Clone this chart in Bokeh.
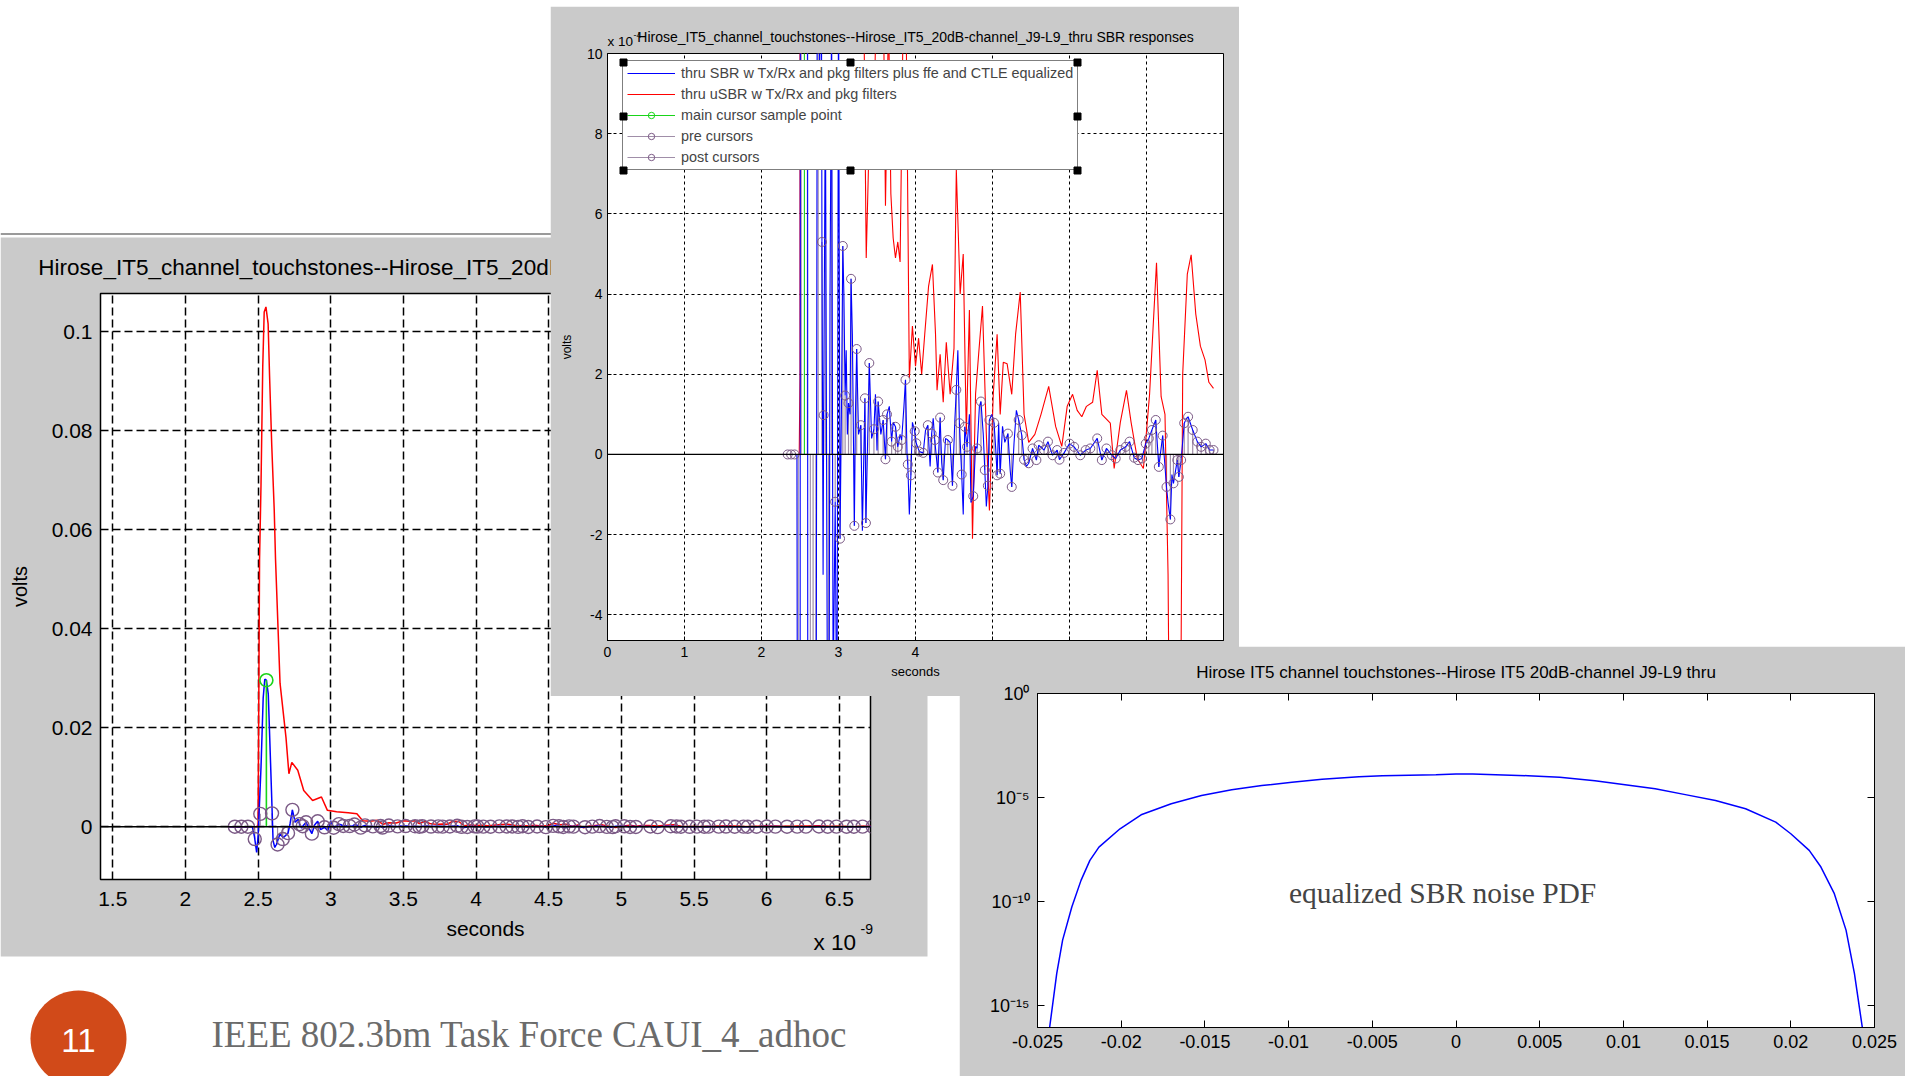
import numpy as np
from bokeh.plotting import figure
from bokeh.models import (Range1d, FixedTicker, Span, Label, Legend, LegendItem,
                          LinearAxis, CustomJSTickFormatter)
from bokeh.layouts import column
from bokeh.embed import file_html
from bokeh.resources import INLINE
from bokeh.core.properties import value

# ---------------- data (time in ns, amplitude in 1e-4 V) ----------------
red_t = [2.30, 2.49, 2.50, 2.51, 2.52, 2.532, 2.542, 2.554, 2.569, 2.579, 2.594, 2.611, 2.62, 2.651,
         2.692, 2.712, 2.732, 2.773, 2.814, 2.875, 2.936, 2.977, 3.04, 3.12, 3.18, 3.22, 3.27, 3.32,
         3.36, 3.40, 3.45, 3.50, 3.54, 3.58, 3.61, 3.65, 3.68, 3.71, 3.74, 3.77, 3.80, 3.84, 3.88,
         3.92, 3.96, 4.00, 4.04, 4.08, 4.12, 4.17, 4.22, 4.26, 4.28, 4.32, 4.36, 4.40, 4.45, 4.50,
         4.53, 4.58, 4.62, 4.66, 4.70, 4.74, 4.78, 4.82, 4.87, 4.92, 4.96, 5.01, 5.06, 5.10, 5.14,
         5.19, 5.25, 5.30, 5.36, 5.41, 5.47, 5.55, 5.63, 5.73, 5.82, 5.90, 5.97, 6.04, 6.10, 6.16,
         6.22, 6.30, 6.36, 6.42, 6.53, 6.58, 6.66, 6.74, 6.80, 6.88, 6.96, 7.04, 7.13, 7.19, 7.24,
         7.28, 7.30, 7.44, 7.47, 7.53, 7.58, 7.64, 7.70, 7.76, 7.81, 7.87]
red_v = [0, 0, 2, 540, 690, 930, 1040, 1050, 1016, 910, 770, 640, 540, 290, 180, 107, 130, 114, 73,
         53, 60, 33, 30, 28, 26, 12, 11, 13, 4.9, 8, 7.5, 12, 11, 12, 6.2, 11, 6.5, 5.4, 4.9, 5.3,
         4.8, 11, 10.5, 1.9, 3.2, 2.2, 2.9, 2.0, 3.0, 4.2, 4.74, 3.0, 1.6, 2.5, 1.3, 2.8, 1.5, 2.65,
         7.1, 4.0, 5.0, 0.5, 3.6, -2.1, 1.5, 2.5, 3.7, 0.5, -1.4, 1.5, 3.0, 1.0, 2.3, 2.26, 1.5, 3.0,
         4.05, 1.0, 0.3, 0.5, 1.0, 1.7, 0.7, 0.2, 1.2, 1.5, 1.1, 0.94, 1.2, 1.3, 2.1, 1.0, 0.78,
         -0.35, 0.8, 1.6, 0.8, -0.1, -0.35, 1.5, 4.78, 1.44, 1.0, -3.0, -8.0, -8.0, 2.0, 4.5, 4.98,
         3.5, 2.7, 2.36, 1.8, 1.65]

blue_t = [2.30, 2.46, 2.475, 2.49, 2.50, 2.52, 2.535, 2.546, 2.557, 2.57, 2.58, 2.592, 2.603, 2.615,
          2.626, 2.65, 2.675, 2.706, 2.72, 2.736, 2.755, 2.775, 2.785, 2.80, 2.807, 2.83, 2.85, 2.87,
          2.89, 2.91, 2.93, 2.957, 2.98, 3.00, 3.02, 3.04, 3.056, 3.07, 3.086, 3.10, 3.115, 3.13,
          3.15, 3.163, 3.18, 3.206, 3.22, 3.236, 3.26, 3.29, 3.31, 3.343, 3.356, 3.38, 3.40, 3.43,
          3.46, 3.48, 3.50, 3.515, 3.55, 3.58, 3.61, 3.63, 3.66, 3.69, 3.71, 3.74, 3.77, 3.80, 3.82,
          3.85, 3.87, 3.89, 3.90, 3.92, 3.94, 3.96, 3.99, 4.01, 4.05, 4.10, 4.13, 4.16, 4.19, 4.21,
          4.23, 4.25, 4.29, 4.32, 4.34, 4.36, 4.39, 4.42, 4.45, 4.48, 4.51, 4.53, 4.55, 4.57, 4.60,
          4.62, 4.64, 4.67, 4.70, 4.72, 4.75, 4.78, 4.80, 4.83, 4.85, 4.88, 4.90, 4.92, 4.94, 4.96,
          4.99, 5.02, 5.04, 5.06, 5.08, 5.10, 5.13, 5.16, 5.20, 5.23, 5.25, 5.28, 5.31, 5.34, 5.38,
          5.41, 5.44, 5.47, 5.52, 5.57, 5.60, 5.67, 5.72, 5.78, 5.84, 5.87, 5.93, 6.00, 6.06, 6.14,
          6.21, 6.27, 6.36, 6.42, 6.48, 6.55, 6.60, 6.66, 6.73, 6.78, 6.84, 6.89, 6.94, 6.99, 7.03,
          7.07, 7.12, 7.16, 7.21, 7.26, 7.28, 7.31, 7.33, 7.35, 7.40, 7.42, 7.45, 7.49, 7.52, 7.54,
          7.60, 7.66, 7.71, 7.77, 7.82, 7.87]
blue_v = [0, 0, -20, -52, -20, 120, 260, 298, 296, 268, 180, 73, -28, -42, -36, -15, -22, -13, 6, 34,
          9, 15, 5.3, -3, 0.98, 9, -3, -14, 4, 11, -6, -1.18, -8, 12, -2.1, 1.5, 5.2, 4.0, 1.47, 2.6,
          0.5, 1.28, 1.0, 4.38, 3.0, -1.78, 1.0, 2.63, 0.5, 0.73, -1.9, 1.4, -1.71, 0.5, 2.28, 0.4,
          0.63, 1.5, 0.1, 1.32, 0.5, 0.86, -0.12, 1.0, 1.2, 0.32, 0.8, 0.69, 0.19, 0.5, 0.36, 1.2,
          1.86, 0.0, -0.25, -1.5, -0.52, 0.8, 0.58, 0.28, 0.07, 0.04, 0.6, 0.73, -0.3, 0.52, 0.9,
          0.36, -0.45, 0.92, -0.2, -0.64, 0.4, 0.36, 0.3, -0.78, 0.8, 1.61, 2.6, 0.78, -0.5, -1.5,
          0.69, 0.19, 1.0, -1.2, -1.04, 0.2, 0.15, 1.2, 1.32, 0.5, -0.39, -1.3, -0.78, 0.86, 1.0,
          0.79, 0.2, -0.52, 0.79, -0.48, 0.7, 0.3, 0.52, -0.4, -0.81, 0.3, 1.1, 0.86, 0.48, -0.13,
          -0.3, -0.22, 0.15, -0.14, 0.23, 0.11, 0.32, -0.02, 0.11, -0.13, 0.04, 0.27, 0.19, -0.02,
          0.11, 0.15, 0.4, -0.14, 0.15, -0.02, -0.1, 0.11, 0.19, 0.32, -0.08, -0.14, -0.1, 0.27, 0.4,
          0.61, 0.86, -0.31, 0.47, -0.81, -1.2, -1.62, -0.5, -0.72, -0.14, -0.56, -0.14, 0.78, 0.9,
          0.94, 0.61, 0.32, 0.19, 0.27, 0.11, 0.11]

main_t = [2.557]
main_v = [296]

pre_t = [2.34, 2.385, 2.43, 2.477, 2.515]
pre_v = [0, 0, 0, -25, 26]

post_t = [2.596, 2.634, 2.67, 2.706, 2.736, 2.785, 2.807, 2.83, 2.87, 2.91, 2.957, 3.02, 3.056,
          3.086, 3.13, 3.163, 3.206, 3.236, 3.29, 3.343, 3.356, 3.40, 3.46, 3.515, 3.58, 3.61, 3.63,
          3.69, 3.74, 3.77, 3.82, 3.87, 3.90, 3.94, 3.99, 4.01, 4.05, 4.10, 4.16, 4.21, 4.25, 4.29,
          4.32, 4.36, 4.42, 4.48, 4.53, 4.57, 4.60, 4.64, 4.67, 4.75, 4.80, 4.85, 4.90, 4.94, 4.96,
          5.02, 5.06, 5.10, 5.20, 5.25, 5.34, 5.38, 5.41, 5.47, 5.52, 5.57, 5.60, 5.67, 5.72, 5.78,
          5.84, 5.87, 5.93, 6.00, 6.06, 6.14, 6.21, 6.27, 6.36, 6.42, 6.48, 6.55, 6.60, 6.66, 6.73,
          6.78, 6.84, 6.89, 6.94, 6.99, 7.03, 7.07, 7.12, 7.16, 7.21, 7.26, 7.31, 7.35, 7.40, 7.42,
          7.45, 7.49, 7.54, 7.60, 7.66, 7.71, 7.77, 7.82, 7.87]
post_v = [27, -36, -25, -13, 34, 5.3, 0.98, 9, -14, 11, -1.18, -2.1, 5.2, 1.47, 1.28, 4.38, -1.78,
          2.63, 0.73, 1.4, -1.71, 2.28, 0.63, 1.32, 0.86, -0.12, 1.0, 0.32, 0.69, 0.19, 0.36, 1.86,
          -0.25, -0.52, 0.58, 0.28, 0.07, 0.04, 0.73, 0.52, 0.36, -0.45, 0.92, -0.64, 0.36, -0.78,
          1.61, 0.78, -0.5, 0.69, 0.19, -1.04, 0.15, 1.32, -0.39, -0.78, 0.86, 0.79, -0.52, -0.48,
          0.52, -0.81, 0.86, 0.48, -0.13, -0.22, 0.15, -0.14, 0.23, 0.11, 0.32, -0.02, 0.11, -0.13,
          0.04, 0.27, 0.19, -0.02, 0.11, 0.15, 0.4, -0.14, 0.15, -0.02, -0.1, 0.11, 0.19, 0.32,
          -0.08, -0.14, -0.1, 0.27, 0.4, 0.61, 0.86, -0.31, 0.47, -0.81, -1.62, -0.72, -0.14, -0.56,
          -0.14, 0.78, 0.94, 0.61, 0.32, 0.19, 0.27, 0.11, 0.11]

# noise PDF: amplitude (V) and log10 of probability density
pdf_x = [-0.0243, -0.02385, -0.0235, -0.02295, -0.0224, -0.02187, -0.02133, -0.02007, -0.01881,
         -0.01701, -0.0152, -0.0134, -0.0116, -0.0098, -0.0080, -0.0058, -0.0044, -0.0012, 0.0,
         0.001, 0.0043, 0.0062, 0.0083, 0.0101, 0.0119, 0.0137, 0.0155, 0.0173, 0.0191, 0.0200,
         0.0211, 0.0218, 0.0226, 0.0233, 0.0238, 0.0243]
pdf_exp = [-16.2, -13.45, -11.85, -10.26, -8.98, -8.02, -7.38, -6.5, -5.83, -5.3, -4.9, -4.63,
           -4.42, -4.27, -4.12, -4.0, -3.95, -3.9, -3.87, -3.87, -3.95, -4.03, -4.19, -4.38, -4.58,
           -4.86, -5.14, -5.54, -6.18, -6.74, -7.54, -8.34, -9.62, -11.37, -13.45, -16.2]

left_xticks = [1.5, 2, 2.5, 3, 3.5, 4, 4.5, 5, 5.5, 6, 6.5]
left_xlabels = ["1.5", "2", "2.5", "3", "3.5", "4", "4.5", "5", "5.5", "6", "6.5"]
left_yticks = [0, 0.02, 0.04, 0.06, 0.08, 0.1]
left_ylabels = ["0", "0.02", "0.04", "0.06", "0.08", "0.1"]
mid_xticks = [0, 1, 2, 3, 4, 5, 6, 7, 8]
mid_xlabels = ["0", "1", "2", "3", "4", "", "", "", ""]
mid_yticks = [-4, -2, 0, 2, 4, 6, 8, 10]
mid_ylabels = ["-4", "-2", "0", "2", "4", "6", "8", "10"]
pdf_xticks = [-0.025, -0.02, -0.015, -0.01, -0.005, 0, 0.005, 0.01, 0.015, 0.02, 0.025]
pdf_xlabels = ["-0.025", "-0.02", "-0.015", "-0.01", "-0.005", "0", "0.005", "0.01", "0.015",
               "0.02", "0.025"]
pdf_yticks = [1e-15, 1e-10, 1e-5, 1.0]
pdf_ylabels = ["10\u207b\u00b9\u2075", "10\u207b\u00b9\u2070", "10\u207b\u2075", "10\u2070"]

legend_labels = ["thru SBR w Tx/Rx and pkg filters plus ffe and CTLE equalized",
                 "thru uSBR w Tx/Rx and pkg filters",
                 "main cursor sample point", "pre cursors", "post cursors"]
TITLE = "Hirose_IT5_channel_touchstones--Hirose_IT5_20dB-channel_J9-L9_thru SBR responses"
PDF_TITLE = "Hirose IT5 channel touchstones--Hirose IT5 20dB-channel J9-L9 thru"

for a, b in [(red_t, red_v), (blue_t, blue_v), (pre_t, pre_v), (post_t, post_v), (pdf_x, pdf_exp)]:
    assert len(a) == len(b), (len(a), len(b))

# ---------------- styling ----------------
PANEL = "#cacaca"
PURPLE = "#7b5a86"
STEM = "#a08ea8"
GREEN = "#19d419"
SANS = "Liberation Sans"
SERIF = "Liberation Serif"

E4 = 1e-4  # unit of stored amplitudes


def tick_fmt(ticks, labels, log=False):
    code = """
    let best = 0, bd = Infinity;
    for (let i = 0; i < vals.length; i++) {
        const d = log ? Math.abs(Math.log10(vals[i]) - Math.log10(tick)) : Math.abs(vals[i] - tick);
        if (d < bd) { bd = d; best = i; }
    }
    return labs[best];
    """
    return CustomJSTickFormatter(args=dict(vals=list(ticks), labs=list(labels), log=log), code=code)


def style_axis(ax, ticks, labels, size, standoff, log=False, tick_in=5):
    ax.ticker = FixedTicker(ticks=list(ticks))
    ax.formatter = tick_fmt(ticks, labels, log)
    ax.major_label_text_font = SANS
    ax.major_label_text_font_size = size
    ax.major_label_text_color = "black"
    ax.major_label_standoff = standoff
    ax.major_tick_in = tick_in
    ax.major_tick_out = 0
    ax.minor_tick_in = 0
    ax.minor_tick_out = 0
    ax.axis_line_color = "black"
    ax.major_tick_line_color = "black"


def style_axis_label(ax, text, size, standoff):
    ax.axis_label = text
    ax.axis_label_text_font = SANS
    ax.axis_label_text_font_size = size
    ax.axis_label_text_font_style = "normal"
    ax.axis_label_text_color = "black"
    ax.axis_label_standoff = standoff


def make_fig(left, top, width, height, xr, yr, borders, transparent=False, **kw):
    p = figure(width=width, height=height, x_range=xr, y_range=yr,
               output_backend="svg", toolbar_location=None,
               min_border_left=borders[0], min_border_top=borders[1],
               min_border_right=borders[2], min_border_bottom=borders[3],
               border_fill_color=PANEL, background_fill_color="white",
               outline_line_color="black", **kw)
    if transparent:
        p.border_fill_alpha = 0
    p.frame_align = False
    p.styles = {"position": "absolute", "left": f"{left}px", "top": f"{top}px"}
    return p


def set_title(p, text, size, standoff):
    p.title.text = text
    p.title.align = "center"
    p.title.text_font = SANS
    p.title.text_font_size = size
    p.title.text_font_style = "normal"
    p.title.text_color = "black"
    p.title.standoff = standoff


def canvas_fig(fill):
    f = figure(width=1905, height=1076, x_range=Range1d(0, 1905), y_range=Range1d(1076, 0),
               x_axis_location=None, y_axis_location=None,
               output_backend="svg", toolbar_location=None, min_border=0)
    f.frame_align = False
    f.grid.visible = False
    f.outline_line_color = None
    if fill is None:
        f.background_fill_alpha = 0
        f.border_fill_alpha = 0
    else:
        f.background_fill_color = fill
        f.border_fill_color = fill
    f.styles = {"position": "absolute", "left": "0px", "top": "0px", "pointer-events": "none"}
    return f


# ---------------- background slide ----------------
bg = canvas_fig("white")
bg.quad(left=[0], right=[927], top=[237], bottom=[956], fill_color=PANEL, line_color=None)
bg.line(x=[0, 560], y=[233.5, 233.5], line_color="#9a9a9a", line_width=2)
bg.circle(x=[78], y=[1038], radius=48, fill_color="#D14A19", line_color=None)
bg.text(x=[78], y=[1040], text=["11"], text_align="center", text_baseline="middle",
        text_color="white", text_font=value(SANS), text_font_size="33px")
bg.text(x=[211], y=[1034], text=["IEEE 802.3bm Task Force CAUI_4_adhoc"], text_align="left",
        text_baseline="middle", text_color="#6b6b6b", text_font=value(SERIF), text_font_size="37px")

# ---------------- left plot (volts) ----------------
pl = make_fig(0, 237, 1000, 719, Range1d(1.4154, 6.7146), Range1d(-0.010667, 0.10772),
              (100, 56, 130, 77), transparent=True)
set_title(pl, TITLE, "22.5px", 28)
style_axis(pl.xaxis[0], left_xticks, left_xlabels, "21px", 12)
style_axis(pl.yaxis[0], left_yticks, left_ylabels, "21px", 8)
style_axis_label(pl.xaxis[0], "seconds", "21px", 8)
style_axis_label(pl.yaxis[0], "volts", "20px", 18)
pl.grid.grid_line_color = "black"
pl.grid.grid_line_dash = "8 4"
pl.grid.grid_line_width = 1.5
pl.outline_line_width = 1.5

tr, vr = np.array(red_t), np.array(red_v) * E4
tb, vb = np.array(blue_t), np.array(blue_v) * E4
tp, vp = np.array(pre_t), np.array(pre_v) * E4
tq, vq = np.array(post_t), np.array(post_v) * E4
tm, vm = np.array(main_t), np.array(main_v) * E4

pl.segment(x0=tp, y0=0, x1=tp, y1=vp, line_color=STEM, line_width=1.2)
pl.segment(x0=tq, y0=0, x1=tq, y1=vq, line_color=STEM, line_width=1.2)
pl.line(tr, vr, line_color="#ff0000", line_width=1.5)
pl.line(tb, vb, line_color="#0000ff", line_width=1.5)
pl.segment(x0=tm, y0=0, x1=tm, y1=vm, line_color=GREEN, line_width=1.6)
pl.scatter(tp, vp, marker="circle", size=13, fill_color=None, line_color=PURPLE, line_width=1.4)
pl.scatter(tq, vq, marker="circle", size=13, fill_color=None, line_color=PURPLE, line_width=1.4)
pl.scatter(tm, vm, marker="circle", size=13, fill_color=None, line_color=GREEN, line_width=1.6)
pl.add_layout(Span(location=0, dimension="width", line_color="black", line_width=1.6))

# ---------------- middle plot (zoomed, 1e-4 V) ----------------
pm = make_fig(550, 6, 689, 690, Range1d(0, 8), Range1d(-4.64, 10.0), (57, 47, 16, 56))
set_title(pm, TITLE, "14px", 18)
style_axis(pm.xaxis[0], mid_xticks, mid_xlabels, "14px", 6, tick_in=4)
style_axis(pm.yaxis[0], mid_yticks, mid_ylabels, "14px", 5, tick_in=4)
style_axis_label(pm.xaxis[0], "seconds", "13px", 4)
style_axis_label(pm.yaxis[0], "volts", "12px", 10)
pm.grid.grid_line_color = "black"
pm.grid.grid_line_dash = "3 3"
pm.grid.grid_line_width = 1

s_pre = pm.segment(x0=pre_t, y0=0, x1=pre_t, y1=pre_v, line_color=STEM, line_width=1.2)
s_post = pm.segment(x0=post_t, y0=0, x1=post_t, y1=post_v, line_color=STEM, line_width=1.2)
r_red = pm.line(red_t, red_v, line_color="#ff0000", line_width=1.1)
r_blue = pm.line(blue_t, blue_v, line_color="#0000ff", line_width=1.1)
s_main = pm.segment(x0=main_t, y0=0, x1=main_t, y1=main_v, line_color=GREEN, line_width=1.1)
c_pre = pm.scatter(pre_t, pre_v, marker="circle", size=9, fill_color=None, line_color=PURPLE)
c_post = pm.scatter(post_t, post_v, marker="circle", size=9, fill_color=None, line_color=PURPLE)
c_main = pm.scatter(main_t, main_v, marker="circle", size=9, fill_color=None, line_color=GREEN)
pm.add_layout(Span(location=0, dimension="width", line_color="black", line_width=1.2))

legend = Legend(items=[
    LegendItem(label=legend_labels[0], renderers=[r_blue]),
    LegendItem(label=legend_labels[1], renderers=[r_red]),
    LegendItem(label=legend_labels[2], renderers=[s_main, c_main]),
    LegendItem(label=legend_labels[3], renderers=[s_pre, c_pre]),
    LegendItem(label=legend_labels[4], renderers=[s_post, c_post]),
], location=(15, 470))
legend.label_text_font = SANS
legend.label_text_font_size = "14.4px"
legend.glyph_width = 48
legend.glyph_height = 16
legend.label_height = 16
legend.label_standoff = 6
legend.spacing = 5
legend.padding = 4
legend.margin = 0
legend.border_line_color = "black"
legend.border_line_width = 1
legend.background_fill_alpha = 1.0
pm.add_layout(legend)

# ---------------- bottom-right plot (noise PDF) ----------------
pb = make_fig(959, 646, 946, 430, Range1d(-0.025, 0.025), Range1d(10 ** -16.05, 1.0),
              (78, 47, 31, 49), y_axis_type="log")
set_title(pb, PDF_TITLE, "17px", 23)
style_axis(pb.xaxis[0], pdf_xticks, pdf_xlabels, "18px", 7, tick_in=7)
style_axis(pb.yaxis[0], pdf_yticks, pdf_ylabels, "18px", 8, log=True, tick_in=7)
top_ax = LinearAxis()
style_axis(top_ax, pdf_xticks, [""] * len(pdf_xticks), "1px", 0, tick_in=7)
pb.add_layout(top_ax, "above")
right_ax = LinearAxis()
style_axis(right_ax, pdf_yticks, [""] * len(pdf_yticks), "1px", 0, log=True, tick_in=7)
pb.add_layout(right_ax, "right")
pb.grid.visible = False
pb.line(pdf_x, 10.0 ** np.array(pdf_exp), line_color="#0000ff", line_width=1.5)
pb.add_layout(Label(x=-0.0008, y=10 ** -9.57, text="equalized SBR noise PDF", text_font=SERIF,
                    text_font_size="29.5px", text_align="center", text_baseline="middle"))

# ---------------- transparent overlay: axis multipliers and legend selection handles -------
ov = canvas_fig(None)
ov.text(x=[813], y=[942], text=["x 10"], text_align="left", text_baseline="middle",
        text_font=value(SANS), text_font_size="22.5px", text_color="black")
ov.text(x=[860], y=[928], text=["-9"], text_align="left", text_baseline="middle",
        text_font=value(SANS), text_font_size="14px", text_color="black")
ov.text(x=[607], y=[41], text=["x 10"], text_align="left", text_baseline="middle",
        text_font=value(SANS), text_font_size="13.5px", text_color="black")
ov.text(x=[633], y=[34], text=["-4"], text_align="left", text_baseline="middle",
        text_font=value(SANS), text_font_size="9px", text_color="black")
ov.scatter(x=[623, 850, 1077, 623, 1077, 623, 850, 1077],
           y=[62, 62, 62, 116, 116, 170, 170, 170],
           marker="square", size=7, color="black")

page = column(bg, pl, pm, pb, ov, width=1905, height=1076)
page.styles = {"position": "relative"}

open("out.html", "w").write(file_html(page, INLINE))
